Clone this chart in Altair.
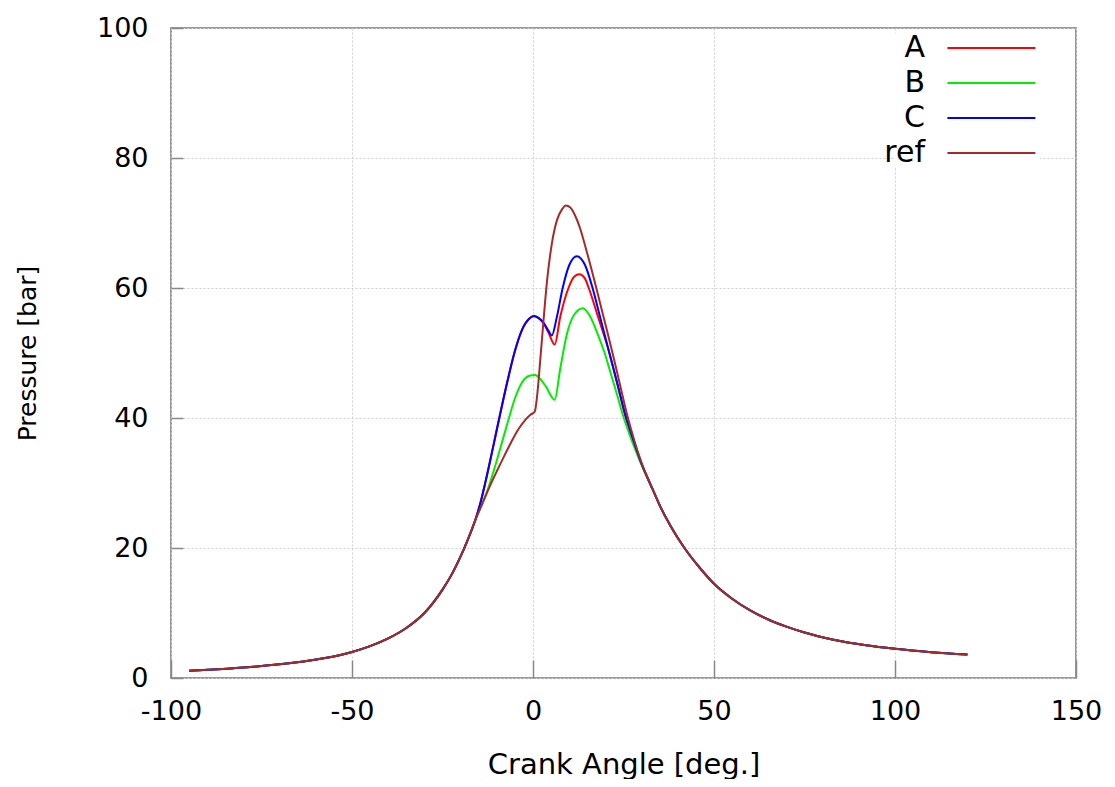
import altair as alt
import pandas as pd

# shared compression part (all cases identical)
x_comp = [-95, -87, -78, -70, -64, -57, -50, -45, -40, -35, -30, -25, -22, -20, -18]
p_comp = [1.1, 1.35, 1.7, 2.1, 2.5, 3.1, 4.0, 4.9, 6.1, 7.7, 10.0, 13.6, 16.4, 18.7, 21.3]

# shared expansion part
x_exp = [33, 35.4, 38, 41.6, 46, 50, 55, 60, 65, 70, 75, 83, 92, 100, 110, 120]
p_exp = [29.1, 26.1, 23.4, 20.2, 17.0, 14.5, 12.2, 10.4, 9.0, 7.9, 7.0, 5.9, 5.05, 4.5, 3.98, 3.6]

# combustion region per case
x_A = [-16, -14.5, -13, -11, -9, -7, -5, -3, -1, 0.2, 1.5, 3, 4.3, 6.0, 7.5, 9.8, 11.5, 12.8,
       14.4, 15.4, 18, 20.9, 23.3, 25.4, 27, 28.5, 30, 31.5]
p_A = [24.2, 27.0, 30.5, 35.6, 40.8, 45.8, 50.3, 53.6, 55.3, 55.7, 55.4, 54.5, 53.1, 51.3, 55.5, 60.0, 61.8, 62.1,
       61.4, 60.0, 55.5, 50.4, 45.2, 40.5, 37.7, 35.2, 32.9, 30.95]

x_B = [-16, -14, -12.5, -11, -9, -7, -5, -3, -1, 0.6, 2, 3.5, 6.0, 7.5, 9.4, 11.5, 13.8,
       15.8, 17.8, 19.8, 21.4, 23, 24.8, 26, 27.5, 29, 30.5, 32]
p_B = [24.2, 26.9, 29.0, 31.6, 35.4, 39.3, 43.0, 45.5, 46.5, 46.6, 46.0, 44.9, 42.8, 47.5, 53.0, 56.0, 56.9,
       55.6, 53.0, 50.0, 47.0, 44.0, 40.5, 38.5, 36.2, 34.1, 32.1, 30.3]

x_C = [-16, -14.5, -13, -11, -9, -7, -5, -3, -1, 0.2, 1.5, 3, 4.3, 5.2, 6.5, 8.2, 10, 12.1,
       14.4, 16.3, 18.5, 21.1, 23.5, 25.5, 27, 28.5, 30, 31.5]
p_C = [24.2, 27.0, 30.5, 35.6, 40.8, 45.8, 50.3, 53.6, 55.3, 55.7, 55.4, 54.6, 53.4, 52.7, 55.3, 60.0, 63.5, 64.9,
       63.5, 60.3, 55.6, 50.0, 44.9, 40.5, 37.8, 35.3, 32.95, 30.96]

x_R = [-16, -14, -12, -10, -8, -6, -4, -2, -0.7, 0.5, 1.1, 2.0, 2.9, 3.9, 5.2, 6.6, 8.0, 9.1, 10.3, 11.6, 13.0,
       14.7, 17.4, 19.6, 21.8, 24, 26, 28, 30, 31.5]
p_R = [24.2, 26.8, 29.4, 31.8, 34.1, 36.3, 38.3, 39.8, 40.5, 41.0, 43.2, 48.9, 55.0, 61.2, 66.8, 70.4, 72.1, 72.7, 72.4, 71.2, 69.2,
       65.9, 60.2, 55.3, 50.4, 45.2, 40.5, 36.5, 33.1, 31.0]

series = ["A", "B", "C", "ref"]
colors = ["#ff0000", "#00ee00", "#0000ff", "#a52a2a"]
x_ticks = [-100, -50, 0, 50, 100, 150]
y_ticks = [0, 20, 40, 60, 80, 100]

rows = []
for name, xm, pm in [("A", x_A, p_A), ("B", x_B, p_B), ("C", x_C, p_C), ("ref", x_R, p_R)]:
    xs = x_comp + xm + x_exp
    ps = p_comp + pm + p_exp
    for i, (a, p) in enumerate(zip(xs, ps)):
        rows.append({"angle": a, "pressure": p, "case": name, "i": i})
df = pd.DataFrame(rows)

W, H = 905, 650
FONT = "DejaVu Sans"

xscale = alt.Scale(domain=[-100, 150], nice=False, zero=False)
yscale = alt.Scale(domain=[0, 100], nice=False, zero=False)

lines = alt.Chart(df).mark_line(strokeWidth=2, interpolate="monotone").encode(
    x=alt.X("angle:Q", scale=xscale,
            axis=alt.Axis(values=x_ticks, title="Crank Angle [deg.]", tickSize=0, domain=False,
                          labelFontSize=27, labelPadding=20, labelColor="black", labelExpr="datum.value",
                          labelFlush=False,
                          titleFontSize=29, titleFontWeight="normal", titleColor="black",
                          titleY=86, titleBaseline="middle", grid=True)),
    y=alt.Y("pressure:Q", scale=yscale,
            axis=alt.Axis(values=y_ticks, title="Pressure [bar]", tickSize=0, domain=False,
                          labelFontSize=27, labelPadding=23, labelColor="black", labelFlush=False,
                          titleFontSize=25, titleFontWeight="normal", titleColor="black",
                          titleX=-144, titleY=H / 2, titleBaseline="middle", titleAlign="center",
                          grid=True, format="d")),
    color=alt.Color("case:N", scale=alt.Scale(domain=series, range=colors),
                    legend=alt.Legend(title=None, orient="none", legendX=724, legendY=5,
                                      symbolType="M3.4,0H11.4", symbolSize=484, symbolStrokeWidth=2,
                                      symbolOffset=0,
                                      labelAlign="right", labelOffset=0, labelFontSize=30,
                                      labelColor="black", rowPadding=5, fillColor="white",
                                      padding=0)),
    order="i:Q",
)

ticks_in = alt.Chart(df).mark_line(opacity=0).encode(
    x=alt.X("angle:Q", scale=xscale,
            axis=alt.Axis(values=x_ticks, orient="top", offset=-H, tickSize=18, tickColor="#888888",
                          tickWidth=1.5, labels=False, domain=False, grid=False, title=None)),
    y=alt.Y("pressure:Q", scale=yscale,
            axis=alt.Axis(values=y_ticks, orient="right", offset=-W, tickSize=12, tickColor="#888888",
                          tickWidth=1.5, labels=False, domain=False, grid=False, title=None)),
    detail="case:N",
)

chart = alt.layer(lines, ticks_in).resolve_axis(x="independent", y="independent").properties(
    width=W, height=H,
    autosize=alt.AutoSizeParams(type="none"),
    padding={"left": 163, "top": 20, "right": 30, "bottom": 101},
).configure(font=FONT).configure_view(
    stroke="#999999", strokeWidth=2
).configure_axis(
    gridColor="#d0d0d0", gridDash=[2, 2], gridWidth=1, labelFont=FONT, titleFont=FONT
).configure_legend(labelFont=FONT)

chart.save("out.html", embed_options={"renderer": "svg", "actions": False})
